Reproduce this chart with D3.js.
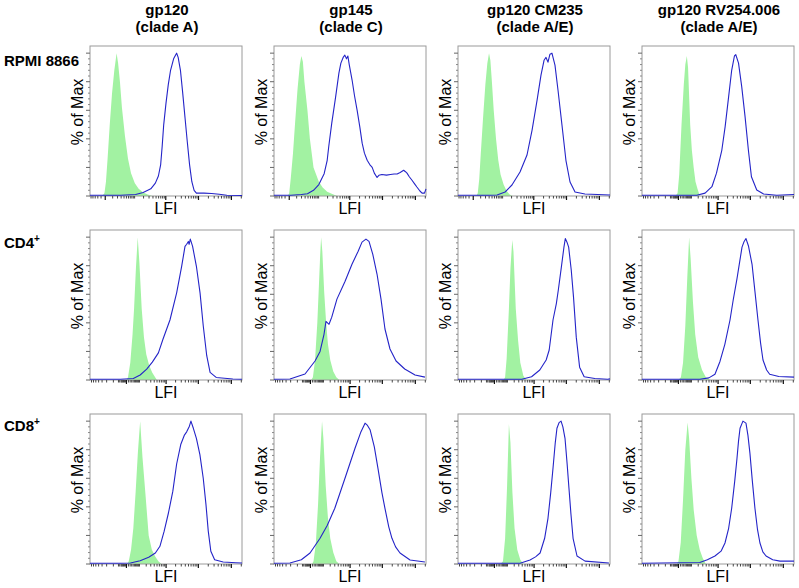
<!DOCTYPE html>
<html>
<head>
<meta charset="utf-8">
<script src="https://cdn.jsdelivr.net/npm/d3@7/dist/d3.min.js"></script>
<style>
  html, body { margin: 0; padding: 0; background: #fff; }
  svg { display: block; }
  text { font-family: "Liberation Sans", Arial, Helvetica, sans-serif; fill: #000; }
</style>
</head>
<body>
<svg id="chart" width="799" height="588"></svg>
<script>
// ---------------- DATA ----------------
const columnTitles = [
  ["gp120", "(clade A)"],
  ["gp145", "(clade C)"],
  ["gp120 CM235", "(clade A/E)"],
  ["gp120 RV254.006", "(clade A/E)"]
];
const rowLabels = [
  { main: "RPMI 8866", sup: "" },
  { main: "CD4", sup: "+" },
  { main: "CD8", sup: "+" }
];
const yAxisLabel = "% of Max";
const xAxisLabel = "LFI";
const yTickValues = [0, 20, 40, 60, 80, 100];
const yMinorTickValues = [4, 8, 12, 16, 24, 28, 32, 36, 44, 48, 52, 56, 64, 68, 72, 76, 84, 88, 92, 96];
// LFI ticks (fluorescence units on a biexponential-like display)
const xMajorTickValues = [0, 1000, 10000, 100000];
const xMinorTickValues = [-700, -600, -500, -400, -300, -200, -100, -50, -40, -30, -25, -20, -15, -10, -5,
  10, 20, 30, 40, 50, 60, 70, 80, 90, 100, 200, 300, 400, 500, 600, 700, 800, 900,
  2000, 3000, 4000, 5000, 6000, 7000, 8000, 9000, 20000, 30000, 40000, 50000, 60000, 70000, 80000, 90000, 200000];

// histograms: [display channel (0-100), % of Max]
// Row 1: RPMI 8866
const control_r1c1 = [[8,0],[9.5,2],[10.5,10],[11.5,25],[13,50],[14.5,72],[16,88],[17.5,100],[18.5,93],[19.7,80],[21,62],[23,42],[25,26],[27,16],[29.5,9],[32,5],[35,2.5],[38,1],[41,0]];
const stain_r1c1 = [[0,0.5],[20,0.5],[30,1],[35,2.5],[40,5],[43,9],[45,14],[46.5,22],[47.5,35],[48.5,50],[50,65],[51.5,78],[53,88],[55,96],[56.5,99],[57,100],[58,97],[59.5,88],[61,72],[62.5,55],[64,38],[65.5,22],[67,10],[68.5,4],[70,2],[75,2],[80,1.8],[85,1.2],[90,0.5],[100,0.3]];
const control_r1c2 = [[9,0],[10,2],[11,12],[12.5,30],[13.8,50],[15.5,75],[17,92],[18,98],[19,94],[20,80],[22,60],[23.6,40],[26,20],[29.5,10],[32,6],[35,3],[38,1.5],[41.5,0]];
const stain_r1c2 = [[0,0.5],[11,0.5],[18,1],[22,1.6],[26,4],[29.5,8],[33,15.6],[35,25],[36,34.5],[38,51],[40.5,69],[42.7,86],[44,93],[45.5,97],[46.6,98.6],[47.7,96],[48.6,98],[49.5,92],[51.4,81],[53,70],[54.7,60],[56.5,48],[58,37],[59.5,30],[61.3,25],[63,22],[64.6,20],[66,16],[67.8,13],[69,14.5],[71,15],[74,14.6],[76.6,15],[79,15.4],[81,15.4],[83,16.5],[85.3,18],[86.5,17],[87.5,16],[89,13.5],[90.8,11],[92.5,8.5],[94,6.3],[96,3.5],[97.4,2],[99,2],[100,5]];
const control_r1c3 = [[12,0],[13,2],[14,12],[15,30],[16.5,55],[18,78],[19.3,93],[20.4,100],[21.3,95],[22.3,80],[23.5,60],[25,40],[26.5,25],[28,15],[30,8],[32,3.5],[34,1],[36,0]];
const stain_r1c3 = [[0,0.5],[20,0.5],[25.7,0.7],[31,2.8],[35.5,7.7],[40.8,16.8],[45.4,28.7],[48.7,46],[52,67],[54.6,84.6],[56.6,95],[57.9,97],[59.2,93.7],[60.5,99.3],[61.8,100],[63.8,91.6],[65.8,74],[68.4,49.7],[71,25],[73.7,9.8],[77,2.8],[83.5,1.4],[100,0.7]];
const control_r1c4 = [[22,0],[23.4,2],[24.5,15],[26,50],[27.5,78],[28.5,92],[29.5,98],[30.3,90],[31.7,50],[32.8,32],[34,20],[35.2,10],[36.5,5],[38,0]];
const stain_r1c4 = [[0,0.5],[36,0.5],[41.5,2],[46,6.5],[49,16],[52.5,32],[54.7,48.6],[57,69.6],[59,88],[60.8,98],[61.7,99],[63.5,93],[65.6,76.6],[67.8,55.6],[70,32],[72,13.5],[75.5,4.2],[80,1.4],[88.6,0.5],[100,1]];
// Row 2: CD4+
const control_r2c1 = [[24,0],[25,2],[26.5,12],[28,32],[29,50],[30.2,78],[31.4,100],[32.5,82],[34,50],[35.5,30],[37,18],[39,10],[41,5],[44,0]];
const stain_r2c1 = [[0,0.5],[20,0.5],[28.5,1],[33,3.5],[37.3,7.6],[41,12.5],[45,19],[48,28.5],[52.6,42],[57,61],[60.3,79.6],[62.5,93.5],[63.6,95],[64.7,97],[65.2,95],[66,98.6],[67.5,93.5],[70,79.6],[72.4,61],[74.5,38],[76.8,17],[79,5.3],[83,1.8],[94,0.7],[100,0.5]];
const control_r2c2 = [[24.5,0],[25.6,2],[27,14],[28.5,40],[29.5,65],[30.4,88],[31,100],[31.8,90],[33,62],[34.3,40],[35.5,25],[37,14],[39,6],[41,2],[43,0]];
const stain_r2c2 = [[0,0.5],[10.5,0.7],[20.4,4.2],[27,13.3],[30.3,20],[32.9,32],[34.2,41],[36.2,39],[38,44],[41.4,56.6],[46.7,69],[51.3,81],[55.3,90],[57.9,96.5],[60.5,98.6],[62.5,97],[65,88],[67.8,74],[70.4,56.6],[73,35.7],[76.3,21.7],[80.3,13.3],[86,7.7],[92.8,3.5],[99.3,2]];
const control_r2c3 = [[30,0],[31,2],[32,15],[33.5,50],[34.5,78],[35.7,98],[36.5,90],[38,50],[39.5,28],[41,12],[43,3],[45,0]];
const stain_r2c3 = [[0,0.5],[42,0.5],[48.4,2.3],[53.8,7],[58,14],[60,21],[62.5,42],[64.7,53.5],[66,63],[68,79],[69.7,93],[70.6,99],[71.7,96.5],[72.8,93],[74.5,77],[76,58],[77.8,30],[80,9],[83,2.3],[90,1],[98.5,0.5],[100,0.8]];
const control_r2c4 = [[24,0],[25.6,2],[27,12],[28.5,38],[29.8,72],[31,100],[32,85],[33.5,55],[35,32],[37,16],[39.5,7],[42,2],[45,0]];
const stain_r2c4 = [[0,0.5],[38,0.5],[44,1.5],[48,4],[51.3,13],[54.5,25],[57.9,42],[60,56],[62.5,71],[64.3,83],[65.8,93],[67.2,97],[68.4,99],[70,94],[72.4,81],[74.3,62],[76.3,42],[78,26],[79.6,14],[82,7],[84,4],[90,2.5],[100,2]];
// Row 3: CD8+
const control_r3c1 = [[24.5,0],[25.5,2],[27,10],[28.5,25],[30,50],[31.5,78],[33,100],[34.5,75],[36.4,50],[38.6,20],[40.7,10],[43,5],[45,2],[47,0]];
const stain_r3c1 = [[0,0.5],[20,0.5],[26.6,0.7],[33,2.3],[38.6,4.7],[43,7.7],[46,12.4],[48.8,23],[51.6,35.7],[54.5,51],[57,70],[59.7,83.6],[62,90],[63.6,92.5],[65.4,96.5],[66.4,100],[68,95],[70,88],[72.3,76.6],[74.5,60],[76.3,41.6],[77.8,23],[79.5,8.9],[82,3],[87.6,1.4],[96,0.9],[100,0.7]];
const control_r3c2 = [[25,0],[26,2],[27.5,14],[29,42],[30.3,75],[31.6,100],[32.5,88],[34,55],[35.5,32],[37,18],[39,8],[41,2],[43,0]];
const stain_r3c2 = [[0,0.5],[10.5,0.7],[18,3],[23.7,7.7],[30.3,18],[35,27],[40,39],[46.7,60],[53.3,81],[57,92],[59.9,98.6],[61.5,97],[63.2,94],[66,82],[68.4,67],[71,50],[73,39],[75.5,26],[77.6,18],[80,12],[82.9,7.7],[89.5,2.8],[99.3,1.4]];
const control_r3c3 = [[28,0],[29.6,2],[31,18],[32.3,55],[33.5,98],[34.5,85],[35.8,50],[37.2,25],[39,10],[41,3],[43,0]];
const stain_r3c3 = [[0,0.5],[40.8,0.5],[47.4,2.8],[51,5],[54,7.7],[57,18],[59.2,32],[61,50],[62.5,67],[64,85],[65.1,95],[66.5,99],[67.8,100],[69,96],[70.4,88],[71.8,70],[73,53],[74.3,35],[75.7,18],[78.3,5.6],[83.6,2],[99.3,0.7]];
const control_r3c4 = [[23,0],[24,2],[25.5,15],[27,45],[28.5,80],[30,99],[31,88],[32.5,60],[34,38],[36,20],[38,10],[40,4],[42,0]];
const stain_r3c4 = [[0,0.5],[38,1],[43,3],[48,5.6],[52,9],[54.6,14.7],[57,25],[59,39],[61,58],[62.5,74],[63.5,86],[64.5,95],[66.4,100],[68.4,98.6],[69.7,90],[71,77.6],[72.6,58],[74.3,39],[76,24],[77.6,14.7],[79.5,8.5],[81.6,5.6],[86,3],[90.8,2],[100,2]];

const controls = [
  [control_r1c1, control_r1c2, control_r1c3, control_r1c4],
  [control_r2c1, control_r2c2, control_r2c3, control_r2c4],
  [control_r3c1, control_r3c2, control_r3c3, control_r3c4]
];
const stains = [
  [stain_r1c1, stain_r1c2, stain_r1c3, stain_r1c4],
  [stain_r2c1, stain_r2c2, stain_r2c3, stain_r2c4],
  [stain_r3c1, stain_r3c2, stain_r3c3, stain_r3c4]
];

// ---------------- LAYOUT ----------------
const panelW = 152, panelH = 150;
const colLeft = [90, 274, 458, 642];
const rowTop = [46, 230, 414];
const rowLabelBaseline = [66, 248, 431];
const svg = d3.select("#chart");

const x = d3.scaleLinear().domain([0, 100]).range([0, panelW]);
const y = d3.scaleLinear().domain([0, 105]).range([panelH, 0]);
// display transforms for the LFI tick marks (two biexponential widths)
const lfiNarrow = d3.scaleSymlog().constant(14.7).domain([-28, 210000]).range([0, 100]);
const lfiWide = d3.scaleSymlog().constant(67.5).domain([-784, 210000]).range([0, 100]);

const area = d3.area().x(d => x(d[0])).y0(y(0)).y1(d => y(d[1]));
const line = d3.line().x(d => x(d[0])).y(d => y(d[1]));

// column titles
columnTitles.forEach((t, c) => {
  const cx = colLeft[c] + panelW / 2 + 1;
  svg.append("text").attr("text-anchor", "middle").attr("x", cx).attr("y", rowTop[0] - 31)
    .style("font-size", "15px").style("font-weight", "bold").text(t[0]);
  svg.append("text").attr("text-anchor", "middle").attr("x", cx).attr("y", rowTop[0] - 14)
    .style("font-size", "15px").style("font-weight", "bold").text(t[1]);
});

// row labels
rowLabels.forEach((r, i) => {
  const t = svg.append("text").attr("x", 4).attr("y", rowLabelBaseline[i])
    .style("font-size", "15px").style("font-weight", "bold");
  t.append("tspan").text(r.main);
  if (r.sup) t.append("tspan").attr("dy", -6).style("font-size", "10px").text(r.sup);
});

for (let r = 0; r < 3; r++) {
  for (let c = 0; c < 4; c++) {
    const g = svg.append("g").attr("transform", `translate(${colLeft[c]},${rowTop[r]})`);
    const lfi = (r === 0 && c < 3) ? lfiNarrow : lfiWide;

    // control histogram (filled)
    g.append("path").datum(controls[r][c]).attr("d", area)
      .attr("fill", "#a2f2a2").attr("stroke", "none");

    // frame
    g.append("rect").attr("x", 0).attr("y", 0).attr("width", panelW).attr("height", panelH)
      .attr("fill", "none").attr("stroke", "#9a9a9a").attr("stroke-width", 1);

    // y ticks (outside, left)
    g.selectAll(".ymaj").data(yTickValues).enter().append("line")
      .attr("x1", -4).attr("x2", 0).attr("y1", d => y(d)).attr("y2", d => y(d))
      .attr("stroke", "#666").attr("stroke-width", 1);
    g.selectAll(".ymin").data(yMinorTickValues).enter().append("line")
      .attr("x1", -2).attr("x2", 0).attr("y1", d => y(d)).attr("y2", d => y(d))
      .attr("stroke", "#888").attr("stroke-width", 1);

    // x ticks (outside, bottom)
    const inRange = v => v >= lfi.domain()[0] && v <= lfi.domain()[1];
    g.selectAll(".xmin").data(xMinorTickValues.filter(inRange)).enter().append("line")
      .attr("x1", d => x(lfi(d))).attr("x2", d => x(lfi(d)))
      .attr("y1", panelH).attr("y2", panelH + 2.5)
      .attr("stroke", "#444").attr("stroke-width", 1);
    g.selectAll(".xmaj").data(xMajorTickValues.filter(inRange)).enter().append("line")
      .attr("x1", d => x(lfi(d))).attr("x2", d => x(lfi(d)))
      .attr("y1", panelH).attr("y2", panelH + 4)
      .attr("stroke", "#111").attr("stroke-width", 1.2);

    // stained histogram (line)
    g.append("path").datum(stains[r][c]).attr("d", line)
      .attr("fill", "none").attr("stroke", "#2424c8").attr("stroke-width", 1.1)
      .attr("stroke-linejoin", "round");

    // axis labels
    g.append("text").attr("transform", `translate(-7,66) rotate(-90)`)
      .attr("text-anchor", "middle").style("font-size", "16px").text(yAxisLabel);
    g.append("text").attr("x", panelW / 2).attr("y", panelH + 18)
      .attr("text-anchor", "middle").style("font-size", "16px").text(xAxisLabel);
  }
}
</script>
</body>
</html>
